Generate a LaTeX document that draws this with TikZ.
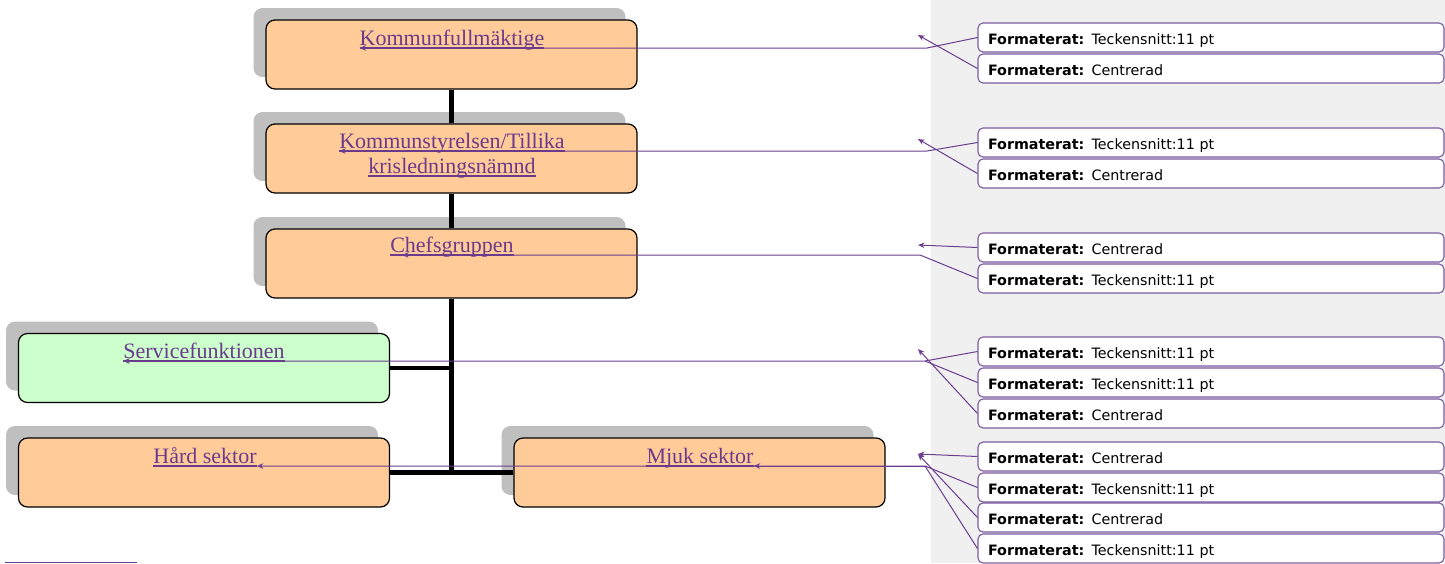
\documentclass[tikz,border=0pt]{standalone}
\usepackage{fontspec}
\setmainfont{Liberation Serif}
\newfontfamily\lblfont{DejaVu Sans}
\usetikzlibrary{arrows.meta}
\definecolor{orgfill}{HTML}{FFCC99}
\definecolor{grnfill}{HTML}{CCFFCC}
\definecolor{shadowc}{HTML}{808080}
\definecolor{panelc}{HTML}{F0F0F0}
\definecolor{linkc}{HTML}{6B3A8C}
\definecolor{leadc}{HTML}{6A3D8F}
\definecolor{lblborder}{HTML}{7B5BA0}
\begin{document}
\begin{tikzpicture}[x=1pt,y=-1pt,
  shadowbox/.style={fill=shadowc, opacity=0.5, rounded corners=9pt, minimum width=372pt, minimum height=69pt, inner sep=0, draw=none},
  orgbox/.style={draw=black, line width=1.2pt, rounded corners=9pt, fill=orgfill, minimum width=371pt, minimum height=69pt, inner sep=0},
  grnbox/.style={orgbox, fill=grnfill},
  thick conn/.style={draw=black, line width=4.5pt},
  ttl/.style={anchor=base, inner sep=0, text=linkc, font=\fontsize{22}{26}\selectfont},
  ul/.style={draw=linkc, line width=1.8pt},
  lbl/.style={draw=lblborder, line width=1.1pt, fill=white, rounded corners=5pt, minimum height=29pt, text width=446pt, text height=13.5pt, text depth=0pt, inner xsep=10pt, inner ysep=0, align=left, font=\lblfont\fontsize{14.3}{16}\selectfont},
  lead/.style={draw=leadc, line width=1pt},
  tip/.style={-{Stealth[length=6.5pt,width=5.5pt]}}
]
\useasboundingbox (0,0) rectangle (1445,563);
\fill[panelc] (931,0) rectangle (1445,563);

% box positions
\coordinate (c1) at (451.5,54.5);
\coordinate (c2) at (451.5,158.5);
\coordinate (c3) at (451.5,263.5);
\coordinate (c4) at (204,368);
\coordinate (c5) at (204,472.5);
\coordinate (c6) at (699.5,472.5);

% shadows
\node[shadowbox] (s1) at (439.5,42.5) {};
\node[shadowbox] (s2) at (439.5,146.5) {};
\node[shadowbox] (s3) at (439.5,251.5) {};
\node[shadowbox] (s4) at (192,356) {};
\node[shadowbox] (s5) at (192,460.5) {};
\node[shadowbox] (s6) at (687.5,460.5) {};

% placeholders for connector geometry
\path (c1) node[orgbox, draw=none, fill=none] (b1) {};
\path (c2) node[orgbox, draw=none, fill=none] (b2) {};
\path (c3) node[orgbox, draw=none, fill=none] (b3) {};
\path (c4) node[orgbox, draw=none, fill=none] (b4) {};
\path (c5) node[orgbox, draw=none, fill=none] (b5) {};
\path (c6) node[orgbox, draw=none, fill=none] (b6) {};

% thick connectors
\draw[thick conn] (b1.south) -- (b2.north);
\draw[thick conn] (b2.south) -- (b3.north);
\draw[thick conn] (b3.south) -- (b3.south |- b5.east);
\draw[thick conn] (b4.east) -- (b4.east -| b3.south);
\draw[thick conn] (b5.east) -- (b6.west);

% visible boxes
\node[orgbox] (B1) at (c1) {};
\node[orgbox] (B2) at (c2) {};
\node[orgbox] (B3) at (c3) {};
\node[grnbox] (B4) at (c4) {};
\node[orgbox] (B5) at (c5) {};
\node[orgbox] (B6) at (c6) {};

% titles
\node[ttl] (t1) at (452,45) {Kommunfullmäktige};
\node[ttl] (t2a) at (452,148) {Kommunstyrelsen/Tillika};
\node[ttl] (t2b) at (452,173) {krisledningsnämnd};
\node[ttl] (t3) at (452,252) {Chefsgruppen};
\node[ttl] (t4) at (204,358) {Servicefunktionen};
\node[ttl] (t5) at (205,463) {Hård sektor};
\node[ttl] (t6) at (700,463) {Mjuk sektor};
\foreach \t in {t1,t2a,t2b,t3,t4,t5,t6}
  \draw[ul] ([yshift=-3pt]\t.base west) -- ([yshift=-3pt]\t.base east);

% labels
\node[lbl] (f1) at (1211,37.5) {\textbf{Formaterat:} Teckensnitt:11 pt};
\node[lbl] (f2) at (1211,68.5) {\textbf{Formaterat:} Centrerad};
\node[lbl] (f3) at (1211,142.5) {\textbf{Formaterat:} Teckensnitt:11 pt};
\node[lbl] (f4) at (1211,173.5) {\textbf{Formaterat:} Centrerad};
\node[lbl] (f5) at (1211,247.5) {\textbf{Formaterat:} Centrerad};
\node[lbl] (f6) at (1211,278.5) {\textbf{Formaterat:} Teckensnitt:11 pt};
\node[lbl] (f7) at (1211,351.5) {\textbf{Formaterat:} Teckensnitt:11 pt};
\node[lbl] (f8) at (1211,382.5) {\textbf{Formaterat:} Teckensnitt:11 pt};
\node[lbl] (f9) at (1211,413.5) {\textbf{Formaterat:} Centrerad};
\node[lbl] (f10) at (1211,456.5) {\textbf{Formaterat:} Centrerad};
\node[lbl] (f11) at (1211,487.5) {\textbf{Formaterat:} Teckensnitt:11 pt};
\node[lbl] (f12) at (1211,517.5) {\textbf{Formaterat:} Centrerad};
\node[lbl] (f13) at (1211,548.5) {\textbf{Formaterat:} Teckensnitt:11 pt};

% leader junctions and arrow points
\coordinate (j1) at (927,48);
\coordinate (a1) at (918,35);
\coordinate (j2) at (927,151);
\coordinate (a2) at (918,139);
\coordinate (a3) at (918,245);
\coordinate (j3) at (920,255);
\coordinate (j4) at (925,361);
\coordinate (a4) at (918,349);
\coordinate (j5) at (925,466);
\coordinate (a5) at (918,454);

% group 1
\draw[lead,tip] (f1.west) -- (j1) -- ([yshift=-3pt]t1.base west);
\draw[lead,tip] (f2.west) -- (a1);
% group 2
\draw[lead,tip] (f3.west) -- (j2) -- ([yshift=-3pt]t2a.base west);
\draw[lead,tip] (f4.west) -- (a2);
% group 3
\draw[lead,tip] (f5.west) -- (a3);
\draw[lead,tip] (f6.west) -- (j3) -- ([xshift=12pt,yshift=-3pt]t3.base west);
% group 4
\draw[lead] (f7.west) -- (j4);
\draw[lead,tip] (f8.west) -- (j4) -- ([yshift=-3pt]t4.base west);
\draw[lead,tip] (f9.west) -- (a4);
% group 5
\draw[lead,tip] (f10.west) -- (a5);
\draw[lead,tip] (f12.west) -- (a5);
\draw[lead] (f11.west) -- (j5);
\draw[lead,tip] (f13.west) -- (j5) -- ([yshift=-3pt]t5.base east);
\draw[lead,tip] (j5) -- ([yshift=-3pt]t6.base east);

% footnote separator
\draw[lead] (5,562) -- (137,562);
\end{tikzpicture}
\end{document}
